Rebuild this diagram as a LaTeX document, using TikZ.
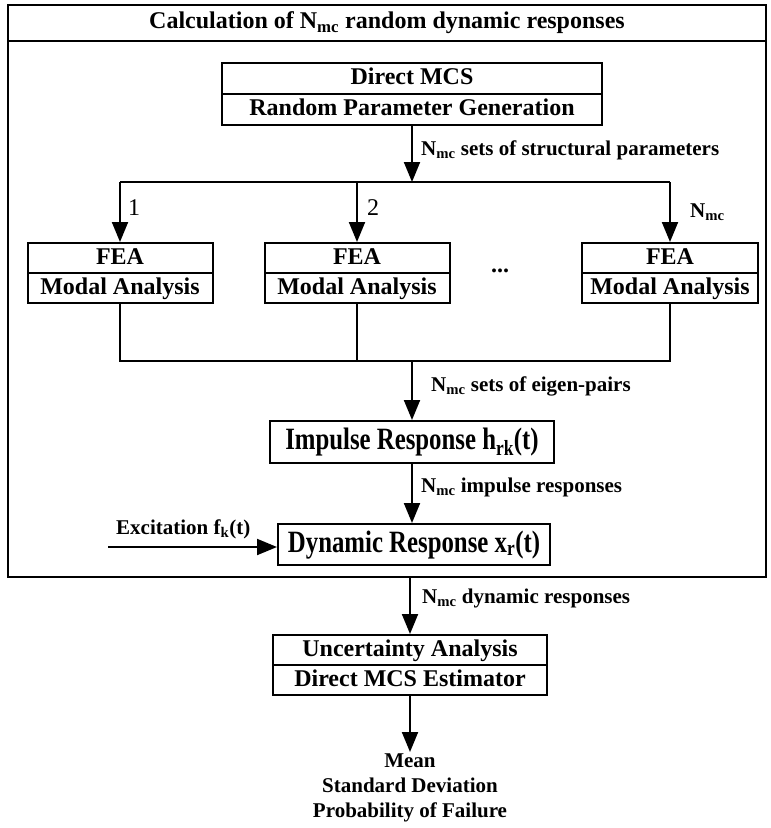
\documentclass[tikz,border=0pt]{standalone}
\usepackage{fontspec}
\setmainfont{Liberation Serif}
\newfontfamily\narrowfont{Liberation Serif}[FakeStretch=0.8]
\usetikzlibrary{arrows.meta}

\begin{document}
\begin{tikzpicture}[x=1pt,y=-1pt,
  box/.style={draw, line width=2pt, inner sep=0pt, text height=17pt, text depth=5pt, font=\bfseries\fontsize{24}{28}\selectfont},
  bigbox/.style={box, text height=22pt, text depth=7pt, font=\narrowfont\bfseries\fontsize{31}{36}\selectfont},
  lbl/.style={inner sep=0pt, font=\bfseries\fontsize{21}{25}\selectfont},
  num/.style={inner sep=0pt, font=\fontsize{24}{28}\selectfont},
  ln/.style={line width=2pt},
  arr/.style={line width=2pt, -{Triangle[length=20pt,width=16pt]}}]
\useasboundingbox (0,0) rectangle (771,828);

%Frame
\draw[ln] (8,5) rectangle (766,577);
\draw[ln] (8,41) -- (766,41);
\node[lbl, font=\bfseries\fontsize{24}{28}\selectfont] (title) at (387,23) {Calculation of N\textsubscript{mc} random dynamic responses};

%Direct MCS
\node[box, minimum width=380pt, minimum height=31pt] (mcs) at (412,78.5) {Direct MCS};
\node[box, minimum width=380pt, minimum height=31pt] (gen) at (412,109.5) {Random Parameter Generation};
\coordinate (split) at (412,182);
\draw[arr] (gen.south) -- (split);
\node[lbl, anchor=west] (lpar) at (421,150) {N\textsubscript{mc} sets of structural parameters};

%FEA boxes
\foreach \i/\x/\w in {1/120/185, 2/357/185, 3/670/176}{
  \node[box, minimum width=\w*1pt, minimum height=30pt] (fea\i) at (\x,258) {FEA};
  \node[box, minimum width=\w*1pt, minimum height=30pt] (mod\i) at (\x,288) {Modal Analysis};
  \draw[arr] (fea\i.north |- split) -- (fea\i.north);
}
\draw[ln] (fea1.north |- split) -- (fea3.north |- split);
\node[num, anchor=west] (n1) at (128,208) {1};
\node[num, anchor=west] (n2) at (367,208) {2};
\node[lbl, anchor=west] (n3) at (690,212) {N\textsubscript{mc}};
\node[box, draw=none] (dots) at (500,266) {...};

%Impulse and dynamic response
\node[bigbox, minimum width=284pt, minimum height=42pt] (imp) at (412,442) {Impulse Response h\textsubscript{rk}(t)};
\node[bigbox, minimum width=272pt, minimum height=41pt] (dyn) at (414,544.5) {Dynamic Response x\textsubscript{r}(t)};
\coordinate (merge) at (412,361);
\draw[ln] (mod1.south) -- (mod1.south |- merge) -- (mod3.south |- merge) -- (mod3.south);
\draw[ln] (mod2.south) -- (mod2.south |- merge);
\draw[arr] (merge) -- (imp.north);
\node[lbl, anchor=west] (leig) at (431,386) {N\textsubscript{mc} sets of eigen-pairs};
\draw[arr] (imp.south) -- (imp.south |- dyn.north);
\node[lbl, anchor=west] (limp) at (421,487) {N\textsubscript{mc} impulse responses};
\coordinate (exc) at (108,547);
\draw[arr] (exc) -- (exc -| dyn.west);
\node[lbl, anchor=west] (lexc) at (116,529) {Excitation f\textsubscript{k}(t)};

%Uncertainty analysis
\node[box, minimum width=274pt, minimum height=30pt] (unc) at (410,650) {Uncertainty Analysis};
\node[box, minimum width=274pt, minimum height=30pt] (est) at (410,680) {Direct MCS Estimator};
\coordinate (fb) at (410,577);
\draw[arr] (fb) -- (unc.north);
\node[lbl, anchor=west] (ldyn) at (422,598) {N\textsubscript{mc} dynamic responses};
\node[lbl, align=center, anchor=north, inner sep=2pt] (out) at (410,752) {Mean\\Standard Deviation\\Probability of Failure};
\draw[arr] (est.south) -- (out.north);
\end{tikzpicture}
\end{document}
